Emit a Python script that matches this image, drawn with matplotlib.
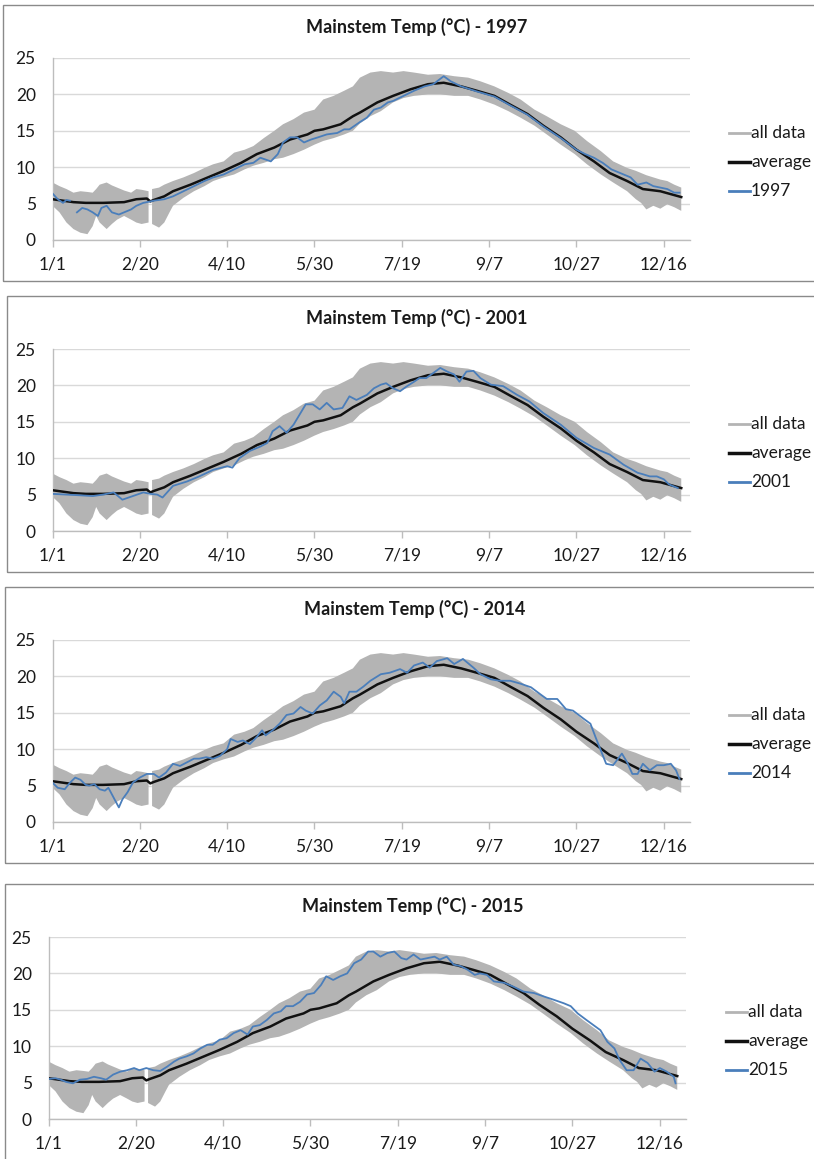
import matplotlib
matplotlib.use("Agg")
import matplotlib.pyplot as plt
import numpy as np
from matplotlib.lines import Line2D
from matplotlib.patches import Rectangle

plt.rcParams["font.family"] = ["Lato", "DejaVu Sans"]

# --- data (day of year -> deg C) ---
BAND_DAYS = [1, 5, 9, 13, 17, 21, 24, 26, 28, 32, 35, 38, 42, 46, 49, 52, 56, 57, 58, 62,
             65, 68, 70, 76, 82, 88, 93, 99, 105, 111, 116, 122, 128, 133, 139, 145, 151,
             156, 162, 168, 173, 177, 183, 189, 196, 202, 208, 216, 223, 231, 239, 246,
             254, 262, 269, 277, 284, 292, 300, 307, 315, 322, 330, 335, 338, 341, 345,
             349, 353, 357, 361]
BAND_HI = [7.9, 7.4, 7.0, 6.5, 6.7, 6.6, 6.5, 7.0, 7.6, 7.9, 7.5, 7.2, 6.8, 6.5, 7.0, 6.9,
           6.7, np.nan, 7.0, 7.2, 7.6, 7.9, 8.1, 8.6, 9.2, 9.9, 10.4, 10.8, 12.0, 12.4, 12.9,
           14.0, 15.0, 15.9, 16.6, 17.5, 17.9, 19.3, 19.8, 20.5, 21.1, 22.3, 23.0, 23.2,
           23.0, 23.2, 23.0, 22.7, 22.8, 22.5, 22.3, 21.8, 21.1, 20.2, 19.3, 17.9, 17.0,
           15.9, 15.0, 13.6, 12.2, 10.8, 9.9, 9.5, 9.2, 8.9, 8.6, 8.3, 8.1, 7.6, 7.2]
BAND_LO = [4.7, 3.8, 2.4, 1.5, 1.0, 0.8, 1.9, 3.3, 2.4, 1.5, 2.2, 2.8, 3.3, 2.8, 2.4, 2.2,
           2.4, np.nan, 2.2, 1.7, 2.4, 3.8, 4.7, 5.8, 6.7, 7.4, 8.1, 8.6, 9.0, 9.7, 10.2,
           10.6, 11.1, 11.3, 11.8, 12.4, 13.1, 13.6, 14.0, 14.5, 15.0, 16.0, 17.0, 17.7,
           18.9, 19.5, 19.8, 20.0, 20.0, 19.8, 19.8, 19.3, 18.6, 17.7, 16.8, 15.7, 14.5,
           13.1, 11.8, 10.4, 9.0, 7.9, 6.7, 5.6, 5.1, 4.2, 4.7, 4.3, 4.9, 4.5, 4.0]

AVG_DAYS = [1, 7, 13, 20, 30, 42, 49, 55, 57, 59, 65, 70, 80, 90, 99, 109, 118, 128, 137,
            147, 151, 156, 166, 173, 177, 182, 187, 196, 206, 216, 225, 235, 244, 254, 263,
            273, 282, 292, 301, 311, 320, 330, 339, 349, 361]
AVG_T = [5.6, 5.4, 5.2, 5.1, 5.1, 5.2, 5.6, 5.7, 5.3, 5.5, 6.0, 6.7, 7.6, 8.6, 9.5, 10.6,
         11.8, 12.7, 13.8, 14.5, 15.0, 15.2, 15.9, 17.0, 17.5, 18.2, 18.9, 19.8, 20.7, 21.4,
         21.6, 21.1, 20.5, 19.8, 18.6, 17.3, 15.7, 14.1, 12.4, 10.8, 9.2, 8.1, 7.0, 6.7, 5.9]

Y1997_DAYS = [1, 4, 7, 9, 11, 12, 15, 18, 21, 24, 27, 29, 32, 35, 39, 42, 46, 49, 53, 59, 65,
              70, 76, 82, 88, 93, 99, 105, 111, 116, 120, 126, 130, 133, 137, 141, 145, 149,
              153, 158, 164, 168, 171, 177, 181, 185, 189, 193, 196, 202, 208, 214, 219,
              225, 229, 235, 244, 254, 263, 273, 282, 292, 301, 306, 311, 316, 321, 326,
              332, 336, 341, 345, 349, 353, 357, 360]
Y1997_T = [6.4, 5.6, 5.1, 5.5, 5.4, np.nan, 3.8, 4.4, 4.2, 3.8, 3.3, 4.4, 4.7, 3.8, 3.5, 3.8,
           4.2, 4.7, 5.1, 5.4, 5.6, 6.0, 6.7, 7.4, 8.1, 8.6, 9.0, 9.7, 10.4, 10.6, 11.3,
           10.8, 11.8, 13.4, 14.1, 14.1, 13.4, 13.8, 14.1, 14.5, 14.7, 15.2, 15.2, 16.2,
           16.8, 17.9, 18.2, 18.9, 19.1, 19.8, 20.5, 21.1, 21.4, 22.5, 21.8, 21.1, 20.4,
           19.7, 18.5, 17.2, 15.6, 14.0, 12.4, 11.8, 11.3, 10.6, 9.7, 9.2, 8.6, 7.6, 7.9,
           7.4, 7.2, 7.0, 6.5, 6.5]

Y2001_DAYS = [1, 9, 17, 24, 30, 36, 41, 47, 53, 57, 61, 64, 70, 78, 85, 93, 101, 104, 108,
              114, 120, 124, 127, 131, 135, 139, 143, 146, 150, 154, 158, 162, 167, 171,
              175, 181, 185, 189, 192, 196, 200, 204, 208, 211, 215, 219, 223, 227, 231,
              234, 238, 242, 246, 252, 259, 267, 274, 282, 292, 301, 311, 320, 328, 336,
              339, 343, 347, 351, 354, 359]
Y2001_T = [5.1, 5.0, 4.9, 4.8, 5.0, 5.3, 4.3, 4.8, 5.3, 5.1, 5.0, 4.6, 6.2, 6.8, 7.5, 8.4,
           8.9, 8.7, 10.0, 11.0, 11.6, 12.1, 13.7, 14.4, 13.5, 14.6, 16.2, 17.4, 17.4,
           16.7, 17.6, 16.7, 16.9, 18.5, 18.0, 18.7, 19.6, 20.1, 20.3, 19.6, 19.2, 19.9,
           20.5, 21.0, 21.0, 21.7, 22.4, 21.9, 21.5, 20.5, 21.9, 22.0, 21.0, 20.1, 19.9,
           18.7, 17.8, 16.2, 14.6, 12.8, 11.4, 10.5, 9.1, 8.0, 7.8, 7.5, 7.5, 7.1, 6.4, 5.9]

Y2014_DAYS = [1, 4, 8, 11, 14, 17, 20, 22, 25, 28, 31, 33, 35, 39, 41, 44, 47, 51, 55, 59,
              62, 66, 70, 74, 78, 82, 85, 89, 93, 97, 101, 103, 107, 110, 114, 118, 121, 123,
              127, 131, 135, 139, 143, 146, 150, 154, 158, 162, 166, 168, 171, 175, 179,
              183, 189, 194, 200, 204, 208, 213, 217, 221, 227, 231, 236, 242, 246, 252,
              257, 263, 269, 275, 280, 284, 290, 295, 299, 305, 309, 312, 315, 318, 322,
              327, 330, 333, 336, 339, 343, 347, 351, 355, 358, 360]
Y2014_T = [5.4, 4.7, 4.5, 5.4, 6.1, 5.8, 5.1, 5.0, 5.2, 4.5, 4.3, 4.7, 3.8, 2.0, 3.1, 4.1,
           5.4, 6.1, 6.6, 6.6, 6.1, 6.8, 8.0, 7.7, 8.2, 8.7, 8.7, 8.9, 8.7, 9.1, 10.0, 11.4,
           11.0, 11.2, 10.7, 11.7, 12.6, 11.9, 12.6, 13.5, 14.7, 14.9, 15.8, 15.3, 14.9,
           16.0, 16.7, 17.9, 17.2, 16.3, 17.9, 17.9, 18.6, 19.4, 20.3, 20.5, 21.0, 20.5,
           21.5, 21.9, 21.2, 22.1, 22.5, 21.7, 22.4, 21.2, 20.3, 19.6, 19.4, 19.4, 19.0,
           18.5, 17.6, 16.9, 16.9, 15.5, 15.3, 14.2, 13.5, 11.6, 9.8, 8.0, 7.8, 9.4, 8.2,
           6.6, 6.6, 8.0, 7.1, 7.8, 7.8, 8.0, 7.1, 5.9]

Y2015_DAYS = [1, 5, 8, 11, 15, 19, 23, 27, 31, 34, 38, 42, 46, 50, 53, 57, 61, 65, 69, 73,
              76, 80, 84, 88, 92, 95, 99, 103, 107, 111, 115, 118, 122, 126, 130, 134, 137,
              141, 145, 149, 153, 157, 160, 164, 168, 172, 176, 180, 184, 187, 191, 195,
              199, 203, 206, 210, 214, 218, 222, 225, 229, 233, 237, 241, 245, 248, 252,
              256, 262, 267, 273, 279, 285, 290, 296, 300, 304, 309, 313, 317, 321, 325,
              328, 332, 336, 340, 344, 348, 351, 355, 359, 360]
Y2015_T = [5.5, 5.6, 5.4, 5.1, 4.9, 5.4, 5.5, 5.8, 5.6, 5.4, 6.1, 6.5, 6.7, 7.0, 6.7, 7.0,
           6.7, 6.6, 7.2, 7.9, 8.3, 8.6, 9.0, 9.7, 10.2, 10.2, 10.9, 11.1, 11.8, 12.2, 11.6,
           12.7, 12.9, 13.6, 14.5, 14.8, 15.5, 15.5, 16.1, 17.1, 17.3, 18.4, 19.6, 19.1,
           19.6, 20.0, 21.4, 21.9, 23.0, 23.0, 22.3, 22.8, 23.0, 22.1, 21.9, 22.6, 21.9,
           22.1, 22.3, 21.9, 22.3, 21.2, 21.0, 20.5, 19.8, 20.0, 19.8, 18.9, 18.7, 18.2,
           17.5, 17.3, 16.8, 16.4, 15.9, 15.5, 14.5, 13.6, 12.9, 12.2, 10.6, 9.7, 8.1, 6.7,
           6.7, 8.3, 7.7, 6.5, 7.0, 6.5, 5.8, 4.9]

YEARS = ["1997", "2001", "2014", "2015"]
YEAR_DAYS = [Y1997_DAYS, Y2001_DAYS, Y2014_DAYS, Y2015_DAYS]
YEAR_T = [Y1997_T, Y2001_T, Y2014_T, Y2015_T]

TICK_DAYS = [1, 51, 101, 151, 201, 251, 301, 351]
TICK_LABELS = ["1/1", "2/20", "4/10", "5/30", "7/19", "9/7", "10/27", "12/16"]
LEGEND_LABELS = ["all data", "average"]

# --- layout (pixels) ---
W, H = 814, 1159
PANEL_TOP = [5, 296, 587, 884]
PANEL_LEFT = [3, 7, 5, 5]
PLOT_X = [(52.5, 690), (52.5, 690), (52.5, 690), (48.5, 686)]
TITLE_X = [417, 417, 415, 413]

BAND_COLOR = "#b4b4b4"
AVG_COLOR = "#111111"
YEAR_COLOR = "#4a7ebb"
GRID_COLOR = "#d9d9d9"
AXIS_COLOR = "#bdbdbd"
TEXT_COLOR = "#1a1a1a"


def fx(x):
    return x / W


def fy(y):
    return 1 - y / H


fig = plt.figure(figsize=(W / 100, H / 100), dpi=100, facecolor="white")

for i, year in enumerate(YEARS):
    top = PANEL_TOP[i]
    # panel frame
    fig.add_artist(Rectangle((fx(PANEL_LEFT[i]), fy(top + 276)), fx(W + 5 - PANEL_LEFT[i]),
                             276 / H, transform=fig.transFigure, fill=False,
                             edgecolor="#8a8a8a", linewidth=1.0))
    x0, x1 = PLOT_X[i]
    ax = fig.add_axes([fx(x0), fy(top + 235), fx(x1 - x0), (235 - 53) / H])

    ax.fill_between(BAND_DAYS, BAND_LO, BAND_HI, color=BAND_COLOR, linewidth=0, zorder=2)
    ax.plot(AVG_DAYS, AVG_T, color=AVG_COLOR, linewidth=1.8, zorder=3)
    ax.plot(YEAR_DAYS[i], YEAR_T[i], color=YEAR_COLOR, linewidth=1.3, zorder=4)

    ax.set_xlim(1, 366)
    ax.set_ylim(0, 25)
    ax.set_yticks([0, 5, 10, 15, 20, 25])
    ax.set_xticks(TICK_DAYS)
    ax.set_xticklabels(TICK_LABELS)
    ax.tick_params(axis="y", length=0, pad=12, labelsize=12.5, labelcolor=TEXT_COLOR)
    ax.tick_params(axis="x", length=5, width=1, color=AXIS_COLOR, direction="out",
                   pad=7, labelsize=12.5, labelcolor=TEXT_COLOR)
    ax.yaxis.grid(True, color=GRID_COLOR, linewidth=1.0, zorder=0)
    ax.set_axisbelow(True)
    for side in ("top", "right"):
        ax.spines[side].set_visible(False)
    for side in ("left", "bottom"):
        ax.spines[side].set_color(AXIS_COLOR)
        ax.spines[side].set_linewidth(1.0)

    fig.text(fx(TITLE_X[i]), fy(top + 22), f"Mainstem Temp (°C) - {year}",
             ha="center", va="center", fontsize=13, fontweight="bold", color=TEXT_COLOR)

    # legend drawn by hand to sit where the reference has it
    labels = LEGEND_LABELS + [year]
    colors = [BAND_COLOR, AVG_COLOR, YEAR_COLOR]
    widths = [2.0, 2.5, 2.0]
    lx0 = 729 if i < 3 else 726
    for k, (lab, col, lw) in enumerate(zip(labels, colors, widths)):
        yy = fy(top + 128 + 29 * k)
        fig.add_artist(Line2D([fx(lx0), fx(lx0 + 21)], [yy, yy], color=col, linewidth=lw,
                              transform=fig.transFigure))
        fig.text(fx(lx0 + 22), yy, lab, ha="left", va="center", fontsize=12.5,
                 color=TEXT_COLOR)

fig.savefig("out.png", dpi=100, facecolor="white")
